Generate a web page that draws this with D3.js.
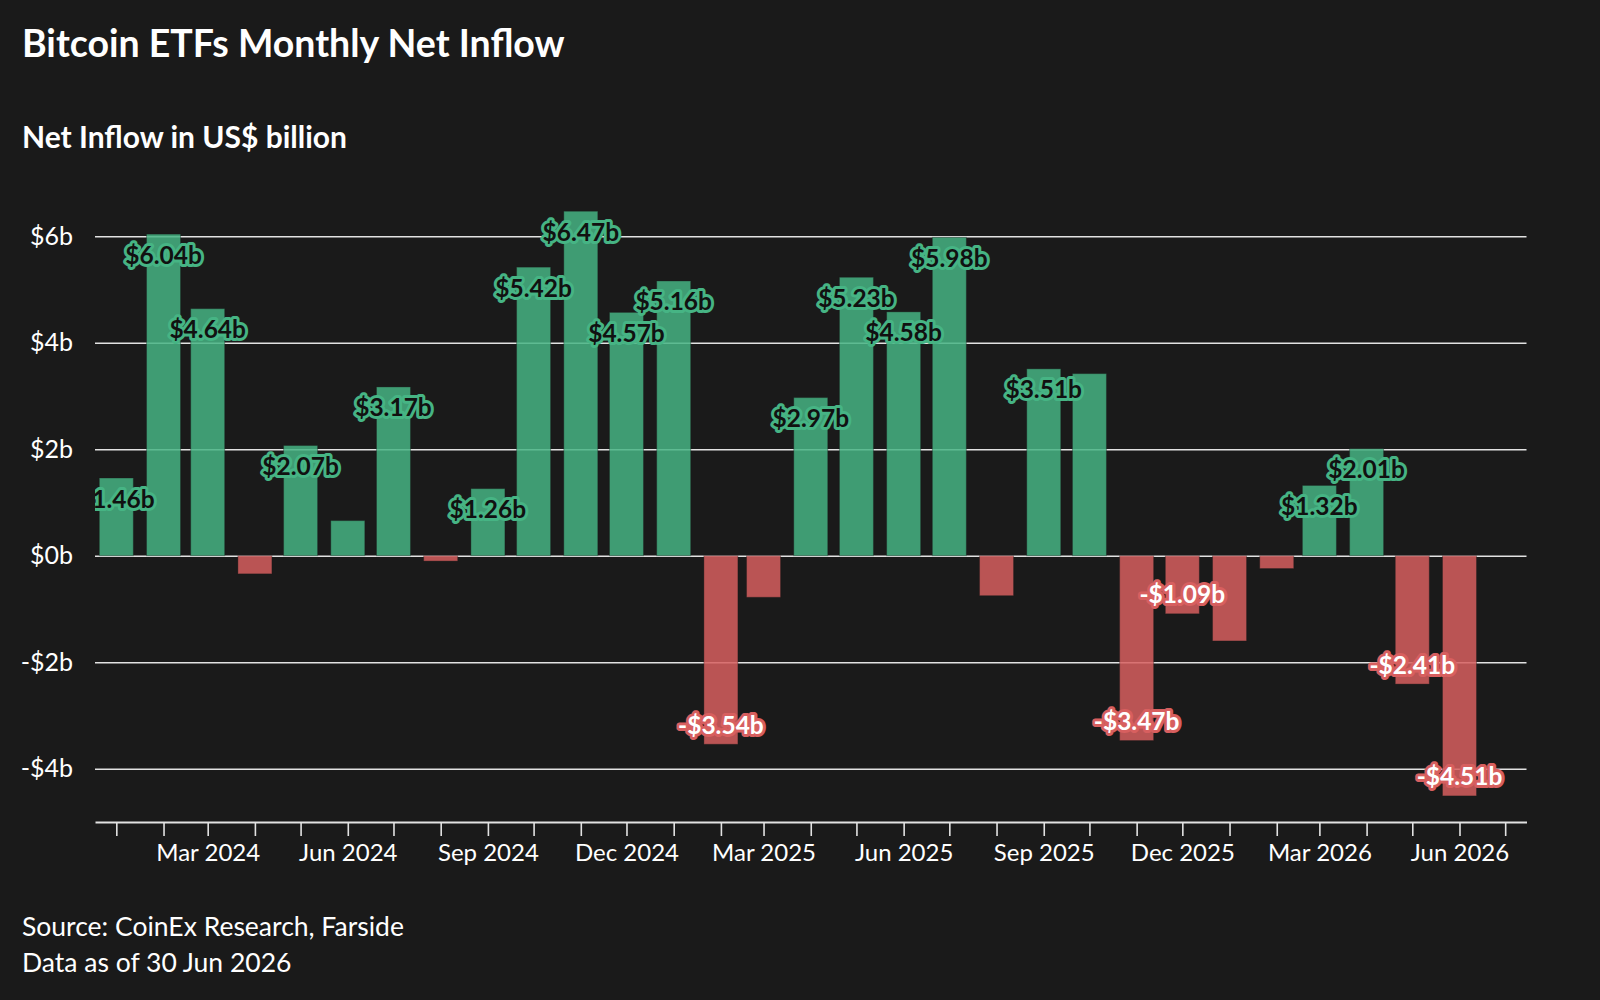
<!DOCTYPE html>
<html>
<head>
<meta charset="utf-8">
<script src="https://cdn.jsdelivr.net/npm/d3@7"></script>
<style>
  html, body { margin: 0; padding: 0; background: #1a1a1a; }
  svg { display: block; font-family: Lato, "Noto Sans", sans-serif; }
</style>
</head>
<body>
<div id="chart"></div>
<script>
const months = [
  '2024-01', '2024-02', '2024-03', '2024-04', '2024-05', '2024-06',
  '2024-07', '2024-08', '2024-09', '2024-10', '2024-11', '2024-12',
  '2025-01', '2025-02', '2025-03', '2025-04', '2025-05', '2025-06',
  '2025-07', '2025-08', '2025-09', '2025-10', '2025-11', '2025-12',
  '2026-01', '2026-02', '2026-03', '2026-04', '2026-05', '2026-06',
];
const netInflow = [
  1.46, 6.04, 4.64, -0.34, 2.07, 0.66,
  3.17, -0.10, 1.26, 5.42, 6.47, 4.57,
  5.16, -3.54, -0.78, 2.97, 5.23, 4.58,
  5.98, -0.75, 3.51, 3.42, -3.47, -1.09,
  -1.60, -0.24, 1.32, 2.01, -2.41, -4.51,
];
const yTicks = [-4, -2, 0, 2, 4, 6];

const WIDTH = 1600;
const HEIGHT = 1000;
const margin = { top: 183, right: 73.5, bottom: 178, left: 95 };
const BAR_WIDTH = 34;
const GREEN = '#46b484';
const RED = '#d75f5f';

const parseMonth = d3.utcParse('%Y-%m');
const data = months.map((m, i) => ({ date: parseMonth(m), value: netInflow[i] }));

const svg = d3.select('#chart').append('svg')
  .attr('width', WIDTH)
  .attr('height', HEIGHT);

svg.append('rect')
  .attr('width', WIDTH)
  .attr('height', HEIGHT)
  .attr('fill', '#1a1a1a');

const x = d3.scaleUtc()
  .domain([new Date(Date.UTC(2023, 11, 18)), new Date(Date.UTC(2026, 6, 15))])
  .range([margin.left, WIDTH - margin.right]);

const y = d3.scaleLinear()
  .domain([-5, 7])
  .range([HEIGHT - margin.bottom, margin.top]);

// titles
svg.append('text')
  .attr('x', 22)
  .attr('y', 57)
  .attr('fill', '#fff')
  .attr('font-size', 37.5)
  .attr('font-weight', 700)
  .text('Bitcoin ETFs Monthly Net Inflow');

svg.append('text')
  .attr('x', 22)
  .attr('y', 148)
  .attr('fill', '#fff')
  .attr('font-size', 30)
  .attr('font-weight', 700)
  .text('Net Inflow in US$ billion');

// y grid + labels
const yAxis = d3.axisLeft(y)
  .tickValues(yTicks)
  .tickSize(-(WIDTH - margin.left - margin.right))
  .tickPadding(22)
  .tickFormat(d => (d < 0 ? '-$' : '$') + Math.abs(d) + 'b');

svg.append('g')
  .attr('transform', `translate(${margin.left},0)`)
  .call(yAxis)
  .call(g => g.select('.domain').remove())
  .call(g => g.selectAll('.tick line')
    .attr('stroke', '#e2e2e2')
    .attr('stroke-width', 1.6))
  .call(g => g.selectAll('.tick text')
    .attr('fill', '#fff')
    .attr('font-size', 25)
    .attr('font-family', 'Lato, sans-serif'));

// bars
svg.append('g')
  .selectAll('rect')
  .data(data)
  .join('rect')
    .attr('x', d => x(d.date) - BAR_WIDTH / 2)
    .attr('y', d => y(Math.max(0, d.value)))
    .attr('width', BAR_WIDTH)
    .attr('height', d => Math.abs(y(d.value) - y(0)))
    .attr('fill', d => d.value >= 0 ? GREEN : RED)
    .attr('fill-opacity', 0.85)
    .attr('stroke', '#1a1a1a')
    .attr('stroke-opacity', 0.35)
    .attr('stroke-width', 1);

// x axis
const xAxis = d3.axisBottom(x)
  .ticks(d3.utcMonth.every(1))
  .tickSize(14)
  .tickSizeOuter(0)
  .tickPadding(8)
  .tickFormat(d => d.getUTCMonth() % 3 === 2 ? d3.utcFormat('%b %Y')(d) : '');

svg.append('g')
  .attr('transform', `translate(0,${HEIGHT - margin.bottom})`)
  .call(xAxis)
  .call(g => g.select('.domain')
    .attr('stroke', '#e2e2e2')
    .attr('stroke-width', 2))
  .call(g => g.selectAll('.tick line')
    .attr('stroke', '#e2e2e2')
    .attr('stroke-width', 1.6))
  .call(g => g.selectAll('.tick text')
    .attr('fill', '#fff')
    .attr('font-size', 24)
    .attr('font-family', 'Lato, sans-serif'));

// value labels, clipped to the plot
svg.append('clipPath')
  .attr('id', 'plot-clip')
  .append('rect')
    .attr('x', margin.left)
    .attr('y', 0)
    .attr('width', WIDTH - margin.left - margin.right)
    .attr('height', HEIGHT - margin.bottom);

const labels = svg.append('g')
  .attr('clip-path', 'url(#plot-clip)')
  .selectAll('text')
  .data(data)
  .join('text')
    .attr('x', d => x(d.date))
    .attr('y', d => y(d.value) + (d.value >= 0 ? 20 : -20))
    .attr('text-anchor', 'middle')
    .attr('dominant-baseline', 'central')
    .attr('font-size', 24.5)
    .attr('font-weight', 700)
    .attr('fill', d => d.value >= 0 ? '#111' : '#fff')
    .attr('stroke', d => d.value >= 0 ? GREEN : RED)
    .attr('stroke-width', 6)
    .attr('stroke-linejoin', 'round')
    .attr('paint-order', 'stroke')
    .text(d => (d.value < 0 ? '-$' : '$') + Math.abs(d.value).toFixed(2) + 'b');

// hide small values and labels that would collide with an earlier one
const placed = [];
labels.each(function(d) {
  const box = this.getBBox();
  const cx = box.x + box.width / 2;
  const cy = box.y + box.height / 2;
  const hit = placed.some(p => Math.abs(p.cx - cx) < box.width && Math.abs(p.cy - cy) < 30);
  if (Math.abs(d.value) < 1 || hit) {
    d3.select(this).remove();
  } else {
    placed.push({ cx, cy });
  }
});

// footer
svg.append('text')
  .attr('x', 22)
  .attr('y', 936)
  .attr('fill', '#fff')
  .attr('font-size', 26.5)
  .text('Source: CoinEx Research, Farside');

svg.append('text')
  .attr('x', 22)
  .attr('y', 972)
  .attr('fill', '#fff')
  .attr('font-size', 26.5)
  .text('Data as of 30 Jun 2026');
</script>
</body>
</html>
